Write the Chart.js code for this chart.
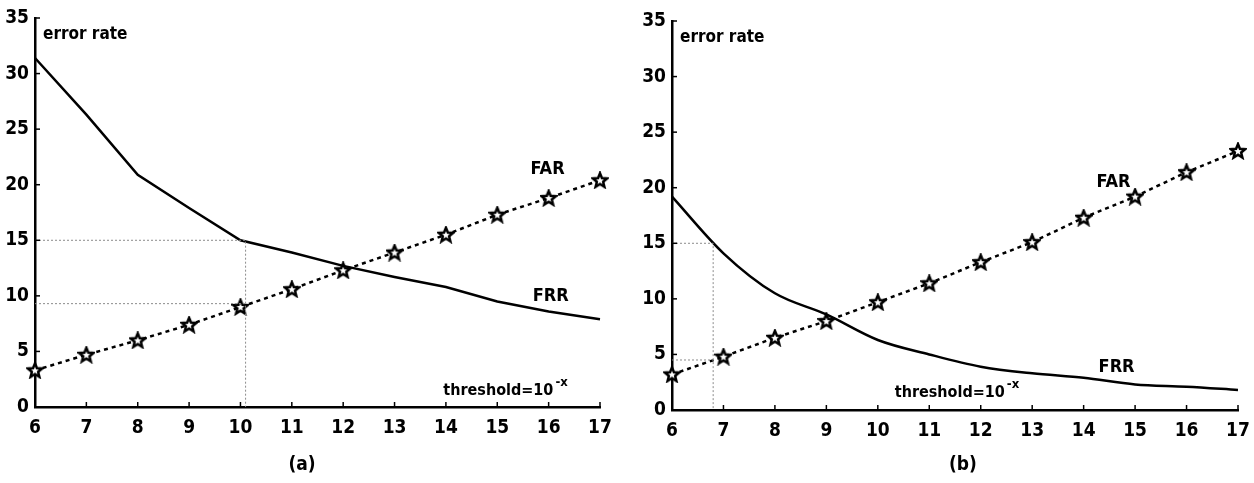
<!DOCTYPE html>
<html>
<head>
<meta charset="utf-8">
<script src="https://cdn.jsdelivr.net/npm/chart.js@4.4.1/dist/chart.umd.min.js"></script>
<style>
    html, body { margin: 0; padding: 0; background: #fff; }
    #wrap { position: relative; width: 1254px; height: 483px; }
    .box { position: absolute; top: 0; }
    .cap { position: absolute; top: 452px; width: 40px; text-align: center;
           font: bold 19px 'DejaVu Sans Condensed', sans-serif; color: #000; }
</style>
</head>
<body>
<div id="wrap">
    <div class="box" style="left:0"><canvas id="chartA" width="627" height="483"></canvas></div>
    <div class="box" style="left:627px"><canvas id="chartB" width="627" height="483"></canvas></div>
    <div class="cap" style="left:282px">(a)</div>
    <div class="cap" style="left:943px">(b)</div>
</div>
<script>
// threshold exponent x (threshold = 10^-x)
const thresholds = [6, 7, 8, 9, 10, 11, 12, 13, 14, 15, 16, 17];
const yTicks = [0, 5, 10, 15, 20, 25, 30, 35];

// panel (a)
const farA = [3.3, 4.7, 6.0, 7.4, 9.0, 10.6, 12.3, 13.9, 15.5, 17.3, 18.8, 20.4];
const frrA = [31.4, 26.3, 20.9, 17.9, 15.0, 13.9, 12.7, 11.7, 10.8, 9.5, 8.6, 7.9];
const guideA1 = [{x: 6, y: 15}, {x: 10.1, y: 15}, {x: 10.1, y: 0}];
const guideA2 = [{x: 6, y: 9.3}, {x: 10.1, y: 9.3}];

// panel (b)
const farB = [3.2, 4.8, 6.5, 8.0, 9.7, 11.4, 13.3, 15.1, 17.3, 19.2, 21.4, 23.3];
const frrB = [19.2, 14.1, 10.5, 8.6, 6.3, 5.0, 3.9, 3.3, 2.9, 2.3, 2.1, 1.8];
const guideB1 = [{x: 6, y: 15}, {x: 6.8, y: 15}, {x: 6.8, y: 0}];
const guideB2 = [{x: 6, y: 4.5}, {x: 6.8, y: 4.5}];

const FONT = "'DejaVu Sans Condensed', sans-serif";

const toPoints = (vals) => vals.map((v, i) => ({x: thresholds[i], y: v}));

// five-pointed outline star used as marker
function starMarker() {
    const c = document.createElement('canvas');
    c.width = c.height = 18;
    const g = c.getContext('2d');
    g.beginPath();
    for (let i = 0; i < 10; i++) {
        const r = i % 2 ? 3.3 : 7.5;
        const a = -Math.PI / 2 + i * Math.PI / 5;
        g.lineTo(9 + r * Math.cos(a), 9.5 + r * Math.sin(a));
    }
    g.closePath();
    g.fillStyle = '#fff';
    g.fill();
    g.lineWidth = 2.5;
    g.strokeStyle = '#000';
    g.stroke();
    return c;
}
const star = starMarker();

// inward tick marks + text labels placed in data space
const marksPlugin = {
    id: 'marks',
    afterDraw(chart, args, opts) {
        const {ctx, chartArea} = chart;
        const xs = chart.scales.x, ys = chart.scales.y;
        ctx.save();
        ctx.strokeStyle = '#000';
        ctx.lineWidth = 1.5;
        yTicks.forEach(v => {
            const py = ys.getPixelForValue(v);
            ctx.beginPath(); ctx.moveTo(chartArea.left, py); ctx.lineTo(chartArea.left + 5, py); ctx.stroke();
        });
        thresholds.forEach(v => {
            const px = xs.getPixelForValue(v);
            ctx.beginPath(); ctx.moveTo(px, chartArea.bottom); ctx.lineTo(px, chartArea.bottom - 5); ctx.stroke();
        });
        ctx.fillStyle = '#000';
        ctx.textBaseline = 'alphabetic';
        (opts.notes || []).forEach(n => {
            const px = xs.getPixelForValue(n.x);
            const py = ys.getPixelForValue(n.y);
            ctx.font = 'bold ' + (n.size || 18) + 'px ' + FONT;
            ctx.textAlign = n.align || 'left';
            ctx.fillText(n.text, px, py);
            if (n.sup) {
                const w = ctx.measureText(n.text).width;
                const sx = n.align === 'center' ? px + w / 2 : px + w;
                ctx.font = 'bold 13px ' + FONT;
                ctx.textAlign = 'left';
                ctx.fillText(n.sup, sx + 2, py - 9);
            }
        });
        // "error rate" caption at top-left of plot
        ctx.font = 'bold 17px ' + FONT;
        ctx.textAlign = 'left';
        ctx.fillText('error rate', chartArea.left + 8, chartArea.top + 21);
        ctx.restore();
    }
};

function makeChart(id, frr, far, guides, notes, padding, frrMode) {
    const guideSets = guides.map(g => ({
        data: g,
        borderColor: '#8c8c8c',
        borderWidth: 1,
        borderDash: [2, 2],
        pointRadius: 0,
        clip: false
    }));

    return new Chart(document.getElementById(id), {
        type: 'line',
        data: {
            datasets: [
                ...guideSets,
                {
                    label: 'FRR',
                    data: toPoints(frr),
                    borderColor: '#000',
                    borderWidth: 2.5,
                    pointRadius: 0,
                    cubicInterpolationMode: frrMode,
                    clip: false
                },
                {
                    label: 'FAR',
                    data: toPoints(far),
                    borderColor: '#000',
                    borderWidth: 2.5,
                    borderDash: [4, 4],
                    pointStyle: star,
                    pointRadius: 8,
                    clip: false
                }
            ]
        },
        options: {
            responsive: false,
            animation: false,
            devicePixelRatio: 1,
            layout: { padding: padding },
            scales: {
                x: {
                    type: 'linear',
                    min: 6,
                    max: 17,
                    ticks: { stepSize: 1, color: '#000', padding: 10, font: { family: FONT, size: 19, weight: 'bold' } },
                    grid: { display: false, drawTicks: false },
                    border: { color: '#000', width: 2.5 },
                    afterFit: (s) => { s.height = 30; s.paddingLeft = 0; s.paddingRight = 0; }
                },
                y: {
                    min: 0,
                    max: 35,
                    ticks: { stepSize: 5, color: '#000', padding: 6, font: { family: FONT, size: 19, weight: 'bold' } },
                    grid: { display: false, drawTicks: false },
                    border: { color: '#000', width: 2.5 },
                    afterFit: (s) => { s.width = 35; s.paddingTop = 0; s.paddingBottom = 0; }
                }
            },
            plugins: {
                legend: { display: false },
                tooltip: { enabled: false },
                marks: { notes: notes }
            }
        },
        plugins: [marksPlugin]
    });
}

makeChart('chartA', frrA, farA, [guideA1, guideA2], [
    {text: 'FAR', x: 15.98, y: 21.0, align: 'center'},
    {text: 'FRR', x: 16.04, y: 9.5, align: 'center'},
    {text: 'threshold=10', sup: '-x', x: 13.95, y: 1.1, size: 16}
], {left: 0, right: 27, top: 18, bottom: 46}, 'default');

makeChart('chartB', frrB, farB, [guideB1, guideB2], [
    {text: 'FAR', x: 14.58, y: 20.1, align: 'center'},
    {text: 'FRR', x: 14.64, y: 3.4, align: 'center'},
    {text: 'threshold=10', sup: '-x', x: 10.33, y: 1.2, size: 16}
], {left: 10, right: 16, top: 21, bottom: 43}, 'monotone');
</script>
</body>
</html>
